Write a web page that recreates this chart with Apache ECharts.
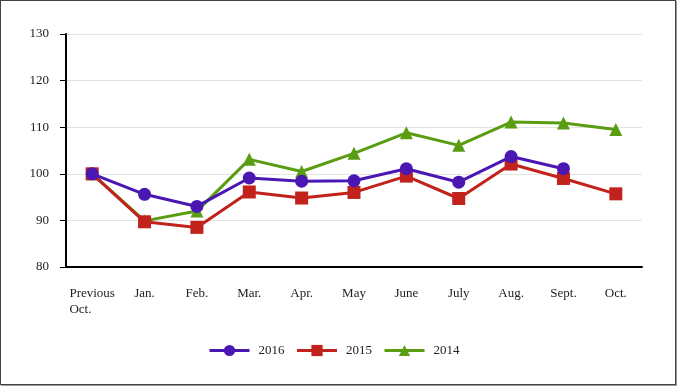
<!DOCTYPE html>
<html>
<head>
<meta charset="utf-8">
<script src="https://cdn.jsdelivr.net/npm/echarts@6/dist/echarts.min.js"></script>
<style>
html,body{margin:0;padding:0;background:#fff;}
#wrap{position:relative;width:677px;height:386px;}
#chart{position:absolute;left:0;top:0;width:677px;height:386px;}
#frame{position:absolute;left:0;top:0;width:674px;height:383px;border:1px solid #444;box-shadow:1px 1px 1px #999;pointer-events:none;}
</style>
</head>
<body>
<div id="wrap"><div id="chart"></div><div id="frame"></div></div>
<script>
const categories = ['Previous\nOct.', 'Jan.', 'Feb.', 'Mar.', 'Apr.', 'May', 'June', 'July', 'Aug.', 'Sept.', 'Oct.'];
const s2016 = [100, 95.6, 93.0, 99.1, 98.4, 98.5, 101.1, 98.2, 103.7, 101.1, null];
const s2015 = [100, 89.7, 88.5, 96.1, 94.8, 96.0, 99.5, 94.7, 102.1, 99.0, 95.7];
const s2014 = [100, 89.9, 92.0, 103.1, 100.5, 104.4, 108.8, 106.1, 111.1, 110.9, 109.5];
const yTicks = [80, 90, 100, 110, 120, 130];

const font = 'Liberation Serif';
const chart = echarts.init(document.getElementById('chart'), null, {renderer: 'canvas'});
function mk(name, data, color, symbol, z) {
  return {
    name, type: 'line', data, z,
    symbol, symbolSize: 13,
    lineStyle: {color, width: 3},
    itemStyle: {color},
    emphasis: {disabled: true},
    animation: false
  };
}
chart.setOption({
  animation: false,
  grid: {left: 66, right: 35, top: 34, bottom: 119},
  xAxis: {
    type: 'category',
    data: categories,
    boundaryGap: true,
    axisLine: {lineStyle: {color: '#000', width: 2}},
    axisTick: {alignWithLabel: true, length: 6, lineStyle: {color: '#000', width: 1}},
    axisLabel: {
      interval: 0,
      margin: 19,
      color: '#222',
      fontFamily: font,
      fontSize: 13,
      lineHeight: 16,
      formatter: function (v) {
        return v.split('\n').map(function (s) { return '{a|' + s + '}'; }).join('\n');
      },
      rich: {a: {align: 'left', fontFamily: font, fontSize: 13, lineHeight: 16, color: '#222'}}
    }
  },
  yAxis: {
    type: 'value',
    min: yTicks[0], max: yTicks[yTicks.length - 1], interval: 10,
    axisLine: {show: true, lineStyle: {color: '#000', width: 2}},
    axisTick: {show: true, length: 6, lineStyle: {color: '#000', width: 1}},
    axisLabel: {margin: 17, color: '#222', fontFamily: font, fontSize: 13},
    splitLine: {lineStyle: {color: '#e3e3e3', width: 1}}
  },
  legend: {
    data: ['2016', '2015', '2014'],
    bottom: 24,
    left: 203,
    itemWidth: 40,
    itemHeight: 14,
    itemGap: 11,
    lineStyle: {width: 3},
    textStyle: {fontFamily: font, fontSize: 13, color: '#222', padding: [0, 0, 0, 4]}
  },
  series: [
    mk('2016', s2016, '#4a17b3', 'circle', 4),
    mk('2015', s2015, '#c1221b', 'rect', 3),
    mk('2014', s2014, '#5a9c12', 'triangle', 2)
  ]
});
</script>
</body>
</html>
